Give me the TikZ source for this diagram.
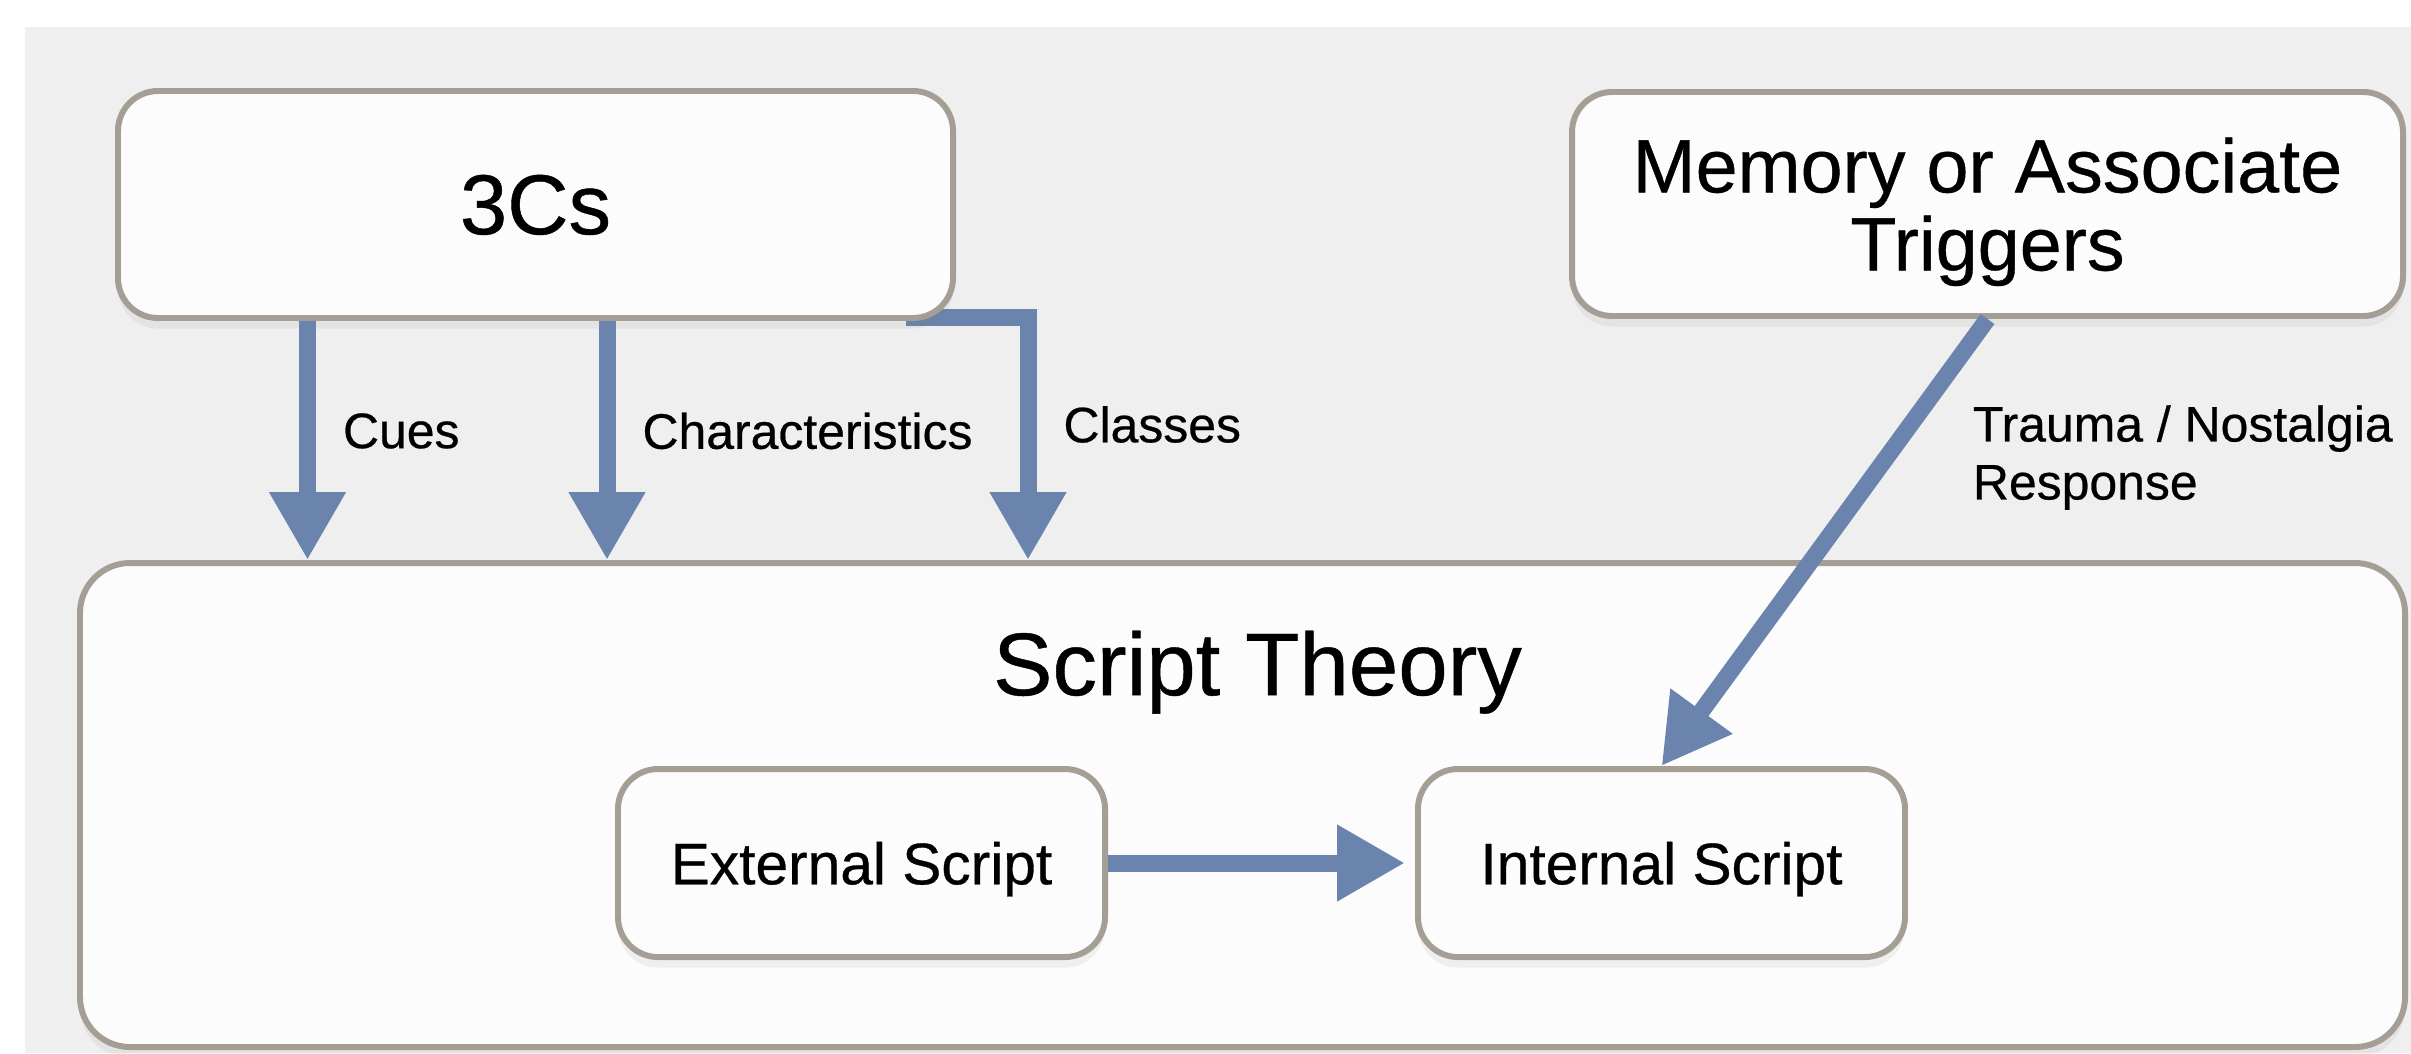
\documentclass[tikz,border=0pt]{standalone}
\usepackage{fontspec}
\setmainfont{Liberation Sans}[FakeBold=0.5]
\usetikzlibrary{arrows.meta,positioning,shadows}
\definecolor{bggray}{HTML}{EFEFEF}
\definecolor{boxfill}{HTML}{FCFCFC}
\definecolor{boxline}{HTML}{A59E95}
\definecolor{flowblue}{HTML}{6A84AD}
\pgfdeclarelayer{behind}
\pgfsetlayers{behind,main}

\begin{document}
\begin{tikzpicture}[
  box/.style={rectangle, rounded corners=0.4cm, draw=boxline, line width=1.7pt, fill=boxfill, align=center,
    text depth=0pt, drop shadow={shadow xshift=0pt, shadow yshift=-3pt, opacity=0.1}},
  arrow/.style={-{Triangle[length=0.68cm, width=0.72cm]}, line width=0.17cm, draw=flowblue},
  lbl/.style={inner sep=0pt, font=\fontsize{14.2}{16.5}\selectfont}
]
  \useasboundingbox (0,0) rectangle (24.11,-10.53);
  \begin{pgfonlayer}{behind}
    \fill[bggray] (0.25,-0.27) rectangle (24.11,-10.53);
  \end{pgfonlayer}

  \node[box, minimum width=8.35cm, minimum height=2.27cm, font=\fontsize{24.2}{29}\selectfont] (threecs) at (5.355,-2.045) {3Cs};
  \node[box, minimum width=8.31cm, minimum height=2.24cm, font=\fontsize{21.5}{22.2}\selectfont] (memory) at (19.875,-2.04) {Memory or Associate\\Triggers};
  \node[box, rounded corners=0.5cm, minimum width=23.25cm, minimum height=4.84cm,
    label={[anchor=north, inner sep=0pt, yshift=-0.7cm, xshift=0.15cm, font=\fontsize{25.3}{30}\selectfont]north:Script Theory}] (theory) at (12.425,-8.05) {};
  \node[box, minimum width=4.87cm, minimum height=1.88cm, font=\fontsize{16.7}{20}\selectfont] (external) at (8.615,-8.63) {External Script};
  \node[box, minimum width=4.87cm, minimum height=1.88cm, font=\fontsize{16.7}{20}\selectfont, right=3.07cm of external] (internal) {Internal Script};

  \draw[arrow] ([xshift=-2.28cm]threecs.south) -- ([xshift=-2.28cm]threecs.south |- theory.north)
    node[lbl, pos=0.46, right=0.27cm] {Cues};
  \draw[arrow] ([xshift=0.715cm]threecs.south) -- ([xshift=0.715cm]threecs.south |- theory.north)
    node[lbl, pos=0.46, right=0.27cm] {Characteristics};
  \begin{pgfonlayer}{behind}
    \draw[arrow] ([xshift=-0.5cm,yshift=0.03cm]threecs.south east) -| ([xshift=0.72cm]threecs.south east |- theory.north)
      node[lbl, pos=0.72, right=0.27cm] {Classes};
  \end{pgfonlayer}
  \draw[arrow] (memory.south) -- (internal.north)
    node[lbl, align=left, pos=0.31, right=0.78cm] {Trauma / Nostalgia\\Response};
  \draw[arrow, shorten >=0.1cm] (external) -- (internal);
\end{tikzpicture}
\end{document}
